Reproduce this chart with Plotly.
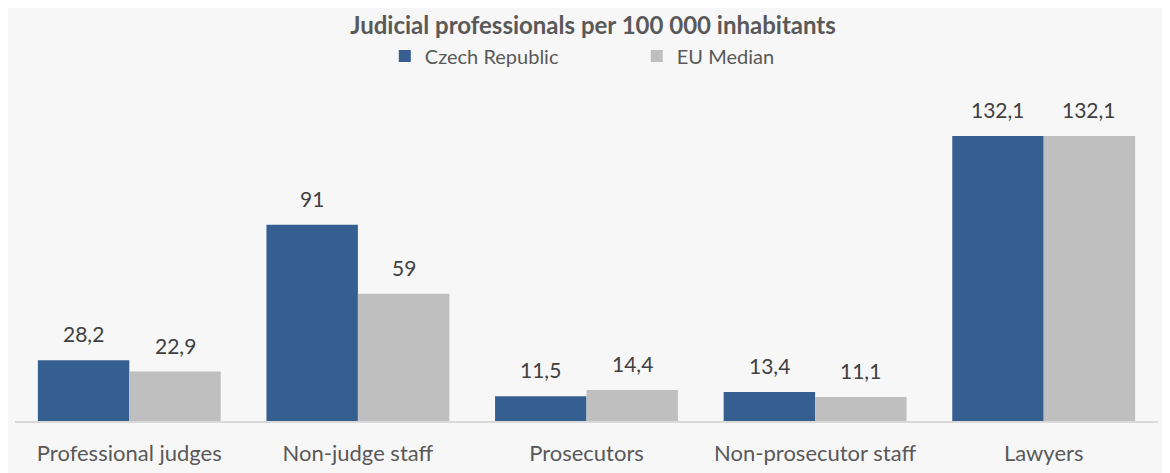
import plotly.graph_objects as go

categories = ["Professional judges", "Non-judge staff", "Prosecutors", "Non-prosecutor staff", "Lawyers"]
czech = [28.2, 91, 11.5, 13.4, 132.1]
eu_median = [22.9, 59, 14.4, 11.1, 132.1]
series_names = ["Czech Republic", "EU Median"]
title = "Judicial professionals per 100 000 inhabitants"

def fmt(v):
    s = f"{v:g}"
    return s.replace(".", ",")

font_family = "Lato, Liberation Sans, Arial, sans-serif"
fig = go.Figure()
fig.add_bar(x=categories, y=czech, name=series_names[0], marker_color="#365F91",
            marker_line_width=0)
fig.add_bar(x=categories, y=eu_median, name=series_names[1], marker_color="#BFBFBF",
            marker_line_width=0)

# data labels
for vals, off in ((czech, -0.2), (eu_median, 0.2)):
    for i, v in enumerate(vals):
        fig.add_annotation(x=i + off, y=v, text=fmt(v), showarrow=False,
                           yanchor="bottom", yshift=12,
                           font=dict(size=21, color="#404040", family=font_family))

fig.update_layout(
    width=1170, height=473,
    margin=dict(l=7, r=20, t=82, b=60),
    paper_bgcolor="#F7F7F7", plot_bgcolor="#F7F7F7",
    barmode="group", bargap=0.2, bargroupgap=0,
    title=dict(text="<b>" + title + "</b>", x=0.5, xanchor="center", y=0.962, yanchor="middle",
               font=dict(size=24, color="#595959", family=font_family)),
    legend=dict(orientation="h", x=0.544, xanchor="center", y=1.103, yanchor="middle",
                font=dict(size=20, color="#595959", family=font_family),
                itemwidth=30, entrywidth=207, tracegroupgap=0, bgcolor="rgba(0,0,0,0)"),
    showlegend=True,
)
fig.update_xaxes(showline=True, linecolor="#D9D9D9", linewidth=2, ticks="",
                 ticklabelstandoff=12,
                 tickfont=dict(size=22, color="#595959", family=font_family))
fig.update_yaxes(range=[0, 153.4], visible=False, showgrid=False)

fig.write_html("out.html")
